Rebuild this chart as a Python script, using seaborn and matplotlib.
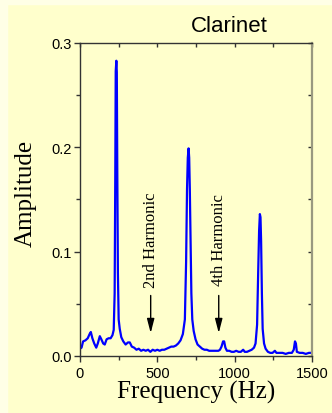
import matplotlib
matplotlib.use('Agg')
import matplotlib.pyplot as plt
from matplotlib.patches import Rectangle
from matplotlib.ticker import MultipleLocator, FormatStrFormatter
import numpy as np
import pandas as pd
import seaborn as sns

# Clarinet spectrum, values
freq = [0, 10, 20, 35, 50, 62, 70, 80, 92, 105, 115, 128, 138, 150, 160, 172, 185, 198, 210, 218,
        224, 228, 231, 235, 238, 241, 245, 250, 257, 267, 280, 295, 310, 322, 335, 350, 365, 380, 395, 410,
        425, 440, 455, 470, 485, 500, 515, 530, 545, 560, 575, 590, 605, 620, 635, 650, 665, 678, 686, 692,
        697, 702, 706, 710, 715, 720, 726, 735, 747, 760, 775, 790, 805, 820, 835, 850, 865, 880, 895, 905,
        915, 925, 932, 940, 950, 965, 980, 995, 1010, 1025, 1040, 1055, 1065, 1080, 1095, 1110, 1125, 1135, 1145, 1152,
        1158, 1163, 1167, 1171, 1176, 1181, 1190, 1200, 1215, 1230, 1245, 1260, 1270, 1290, 1310, 1330, 1350, 1370, 1382, 1390,
        1396, 1402, 1420, 1440, 1460, 1480, 1500]
amplitude = [0.007, 0.008, 0.014, 0.015, 0.017, 0.021, 0.023, 0.017, 0.012, 0.008, 0.012, 0.019, 0.016, 0.012, 0.011, 0.016, 0.017, 0.017, 0.020, 0.025,
             0.060, 0.170, 0.273, 0.283, 0.272, 0.180, 0.080, 0.035, 0.026, 0.018, 0.014, 0.011, 0.013, 0.013, 0.009, 0.008, 0.006, 0.007, 0.005, 0.006,
             0.005, 0.006, 0.004, 0.006, 0.005, 0.006, 0.005, 0.006, 0.006, 0.007, 0.008, 0.009, 0.009, 0.010, 0.012, 0.015, 0.021, 0.035, 0.090, 0.160,
             0.190, 0.199, 0.190, 0.160, 0.110, 0.060, 0.035, 0.024, 0.016, 0.011, 0.009, 0.007, 0.006, 0.006, 0.005, 0.005, 0.005, 0.005, 0.005, 0.006,
             0.009, 0.014, 0.014, 0.008, 0.005, 0.005, 0.004, 0.004, 0.005, 0.004, 0.004, 0.006, 0.004, 0.004, 0.005, 0.006, 0.008, 0.012, 0.030, 0.080,
             0.120, 0.136, 0.133, 0.110, 0.060, 0.026, 0.012, 0.007, 0.004, 0.003, 0.003, 0.005, 0.003, 0.003, 0.003, 0.002, 0.003, 0.003, 0.006, 0.014,
             0.012, 0.004, 0.003, 0.003, 0.002, 0.003, 0.003]

harmonic_labels = ['2nd Harmonic', '4th Harmonic']
harmonic_freq = [457, 897]

bg = '#ffffcc'
sns.set_theme(style='ticks')
plt.rcParams['font.family'] = ['Liberation Sans', 'DejaVu Sans']

fig = plt.figure(figsize=(3.32, 4.14), dpi=100, facecolor=bg)
ax = fig.add_axes([80 / 332, 1 - 357 / 414, 232 / 332, 313 / 414], facecolor=bg)

# screenshot border on the left and top
fig.patches.append(Rectangle((0, 0), 7 / 332, 1, transform=fig.transFigure, color='#ffffe6', zorder=0))
fig.patches.append(Rectangle((0, 1 - 5 / 414), 1, 5 / 414, transform=fig.transFigure, color='#ffffe6', zorder=0))

df = pd.DataFrame({'Frequency': freq, 'Amplitude': amplitude})
sns.lineplot(data=df, x='Frequency', y='Amplitude', ax=ax, color='#0000ff', linewidth=1.6)

ax.set_xlim(0, 1500)
ax.set_ylim(0, 0.3)
ax.xaxis.set_major_locator(MultipleLocator(500))
ax.xaxis.set_minor_locator(MultipleLocator(250))
ax.yaxis.set_major_locator(MultipleLocator(0.1))
ax.yaxis.set_minor_locator(MultipleLocator(0.05))
ax.yaxis.set_major_formatter(FormatStrFormatter('%.1f'))

for s in ['left', 'bottom', 'top']:
    ax.spines[s].set_color('#333333')
    ax.spines[s].set_linewidth(1.0)
ax.spines['right'].set_color('#999980')
ax.spines['right'].set_linewidth(1.6)

ax.tick_params(which='major', direction='out', length=4, width=1, color='#333333',
               labelsize=10.5, labelcolor='black', pad=2)
ax.tick_params(which='minor', direction='out', length=3, width=1, color='#333333')
ax.tick_params(axis='x', which='major', pad=3)

# inward ticks on the top and right
top = ax.secondary_xaxis('top')
top.xaxis.set_major_locator(MultipleLocator(250))
top.tick_params(direction='in', length=3, width=1, color='#333333', labeltop=False)
right = ax.secondary_yaxis('right')
right.yaxis.set_major_locator(MultipleLocator(0.05))
right.tick_params(direction='in', length=3, width=1, color='#333333', labelright=False)
top.spines['top'].set_visible(False)
right.spines['right'].set_visible(False)

serif = ['Liberation Serif', 'DejaVu Serif']
ax.set_xlabel('Frequency (Hz)', family=serif, fontsize=18, color='black')
ax.set_ylabel('Amplitude', family=serif, fontsize=18, color='black')
ax.xaxis.set_label_coords(0.5, -0.075)
ax.yaxis.set_label_coords(-0.185, 0.524)

ax.text(0.642, 1.037, 'Clarinet', transform=ax.transAxes, ha='center', va='baseline',
        fontsize=16, color='black')

for label, f in zip(harmonic_labels, harmonic_freq):
    ax.text(f, 0.112, label, rotation=90, ha='center', va='center', family=serif,
            fontsize=12, color='black')
    ax.annotate('', xy=(f, 0.022), xytext=(f, 0.058),
                arrowprops=dict(arrowstyle='-|>,head_length=0.85,head_width=0.22',
                                color='black', lw=1, mutation_scale=10, shrinkA=0, shrinkB=0))

fig.savefig('out.png', dpi=100, facecolor=bg)
